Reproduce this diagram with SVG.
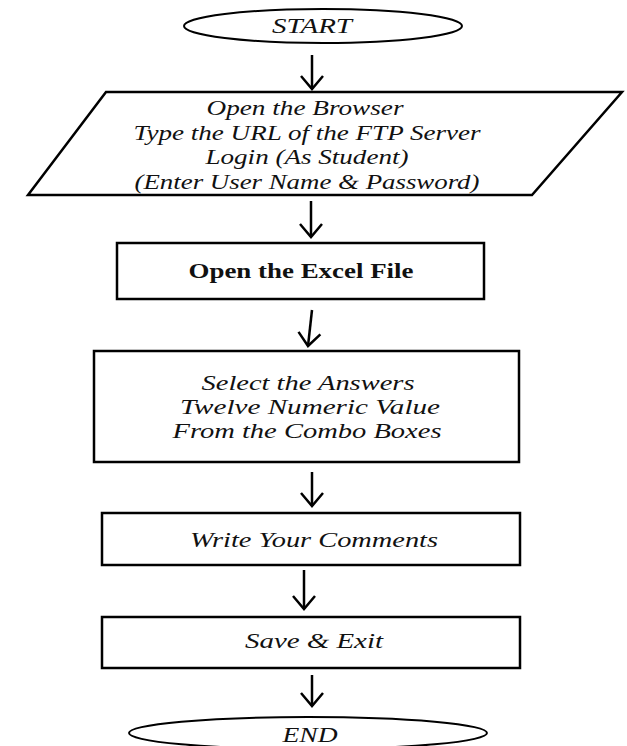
<svg xmlns="http://www.w3.org/2000/svg" width="627" height="746" viewBox="0 0 627 746">
<defs>
<style>
.shape{fill:#fff;stroke:#000;stroke-width:2.5}
.ell{fill:#fff;stroke:#000;stroke-width:2}
.t{font-family:"Liberation Serif","Times New Roman",serif;font-style:italic;font-size:22px;fill:#111;text-anchor:middle}
.tb{font-family:"Liberation Serif","Times New Roman",serif;font-size:21px;font-weight:bold;fill:#111;text-anchor:middle}
.arr{fill:none;stroke:#000;stroke-width:2.5}
</style>
<marker id="ah" markerUnits="userSpaceOnUse" viewBox="-16 -14 20 28" refX="0" refY="0" markerWidth="20" markerHeight="28" orient="auto">
<path d="M-13,-11 L0,0 L-13,11" fill="none" stroke="#000" stroke-width="2.5"/>
</marker>
</defs>
<rect width="627" height="746" fill="#fff"/>
<g id="connectors">
<path class="arr" d="M312,55 L312,89" marker-end="url(#ah)"/>
<path class="arr" d="M311,201 L311,237" marker-end="url(#ah)"/>
<path class="arr" d="M312,310 L308,346" marker-end="url(#ah)"/>
<path class="arr" d="M312,472 L312,506" marker-end="url(#ah)"/>
<path class="arr" d="M304,570 L304,609" marker-end="url(#ah)"/>
<path class="arr" d="M312,675 L312,706" marker-end="url(#ah)"/>
</g>
<g id="start">
<ellipse class="ell" cx="323" cy="26" rx="139" ry="17"/>
<text class="t" x="312" y="33" textLength="80" lengthAdjust="spacingAndGlyphs">START</text>
</g>
<g id="login">
<polygon class="shape" points="106,92 622,92 532,195 28,195"/>
<text class="t" x="305" y="115" textLength="197" lengthAdjust="spacingAndGlyphs">Open the Browser</text>
<text class="t" x="307" y="140" textLength="347" lengthAdjust="spacingAndGlyphs">Type the URL of the FTP Server</text>
<text class="t" x="307" y="164" textLength="203" lengthAdjust="spacingAndGlyphs">Login (As Student)</text>
<text class="t" x="307" y="189" textLength="345" lengthAdjust="spacingAndGlyphs">(Enter User Name &amp; Password)</text>
</g>
<g id="excel">
<rect class="shape" x="117" y="243" width="367" height="56"/>
<text class="tb" x="301" y="278" textLength="225" lengthAdjust="spacingAndGlyphs">Open the Excel File</text>
</g>
<g id="select">
<rect class="shape" x="94" y="351" width="425" height="111"/>
<text class="t" x="308" y="390" textLength="213" lengthAdjust="spacingAndGlyphs">Select the Answers</text>
<text class="t" x="310" y="414" textLength="260" lengthAdjust="spacingAndGlyphs">Twelve Numeric Value</text>
<text class="t" x="307" y="438" textLength="269" lengthAdjust="spacingAndGlyphs">From the Combo Boxes</text>
</g>
<g id="comments">
<rect class="shape" x="102" y="513" width="418" height="52"/>
<text class="t" x="314" y="547" textLength="248" lengthAdjust="spacingAndGlyphs">Write Your Comments</text>
</g>
<g id="save">
<rect class="shape" x="102" y="617" width="418" height="51"/>
<text class="t" x="314" y="648" textLength="138" lengthAdjust="spacingAndGlyphs">Save &amp; Exit</text>
</g>
<g id="end">
<ellipse class="ell" cx="308" cy="733" rx="179" ry="16"/>
<text class="t" x="310" y="742" textLength="55" lengthAdjust="spacingAndGlyphs">END</text>
</g>
</svg>
